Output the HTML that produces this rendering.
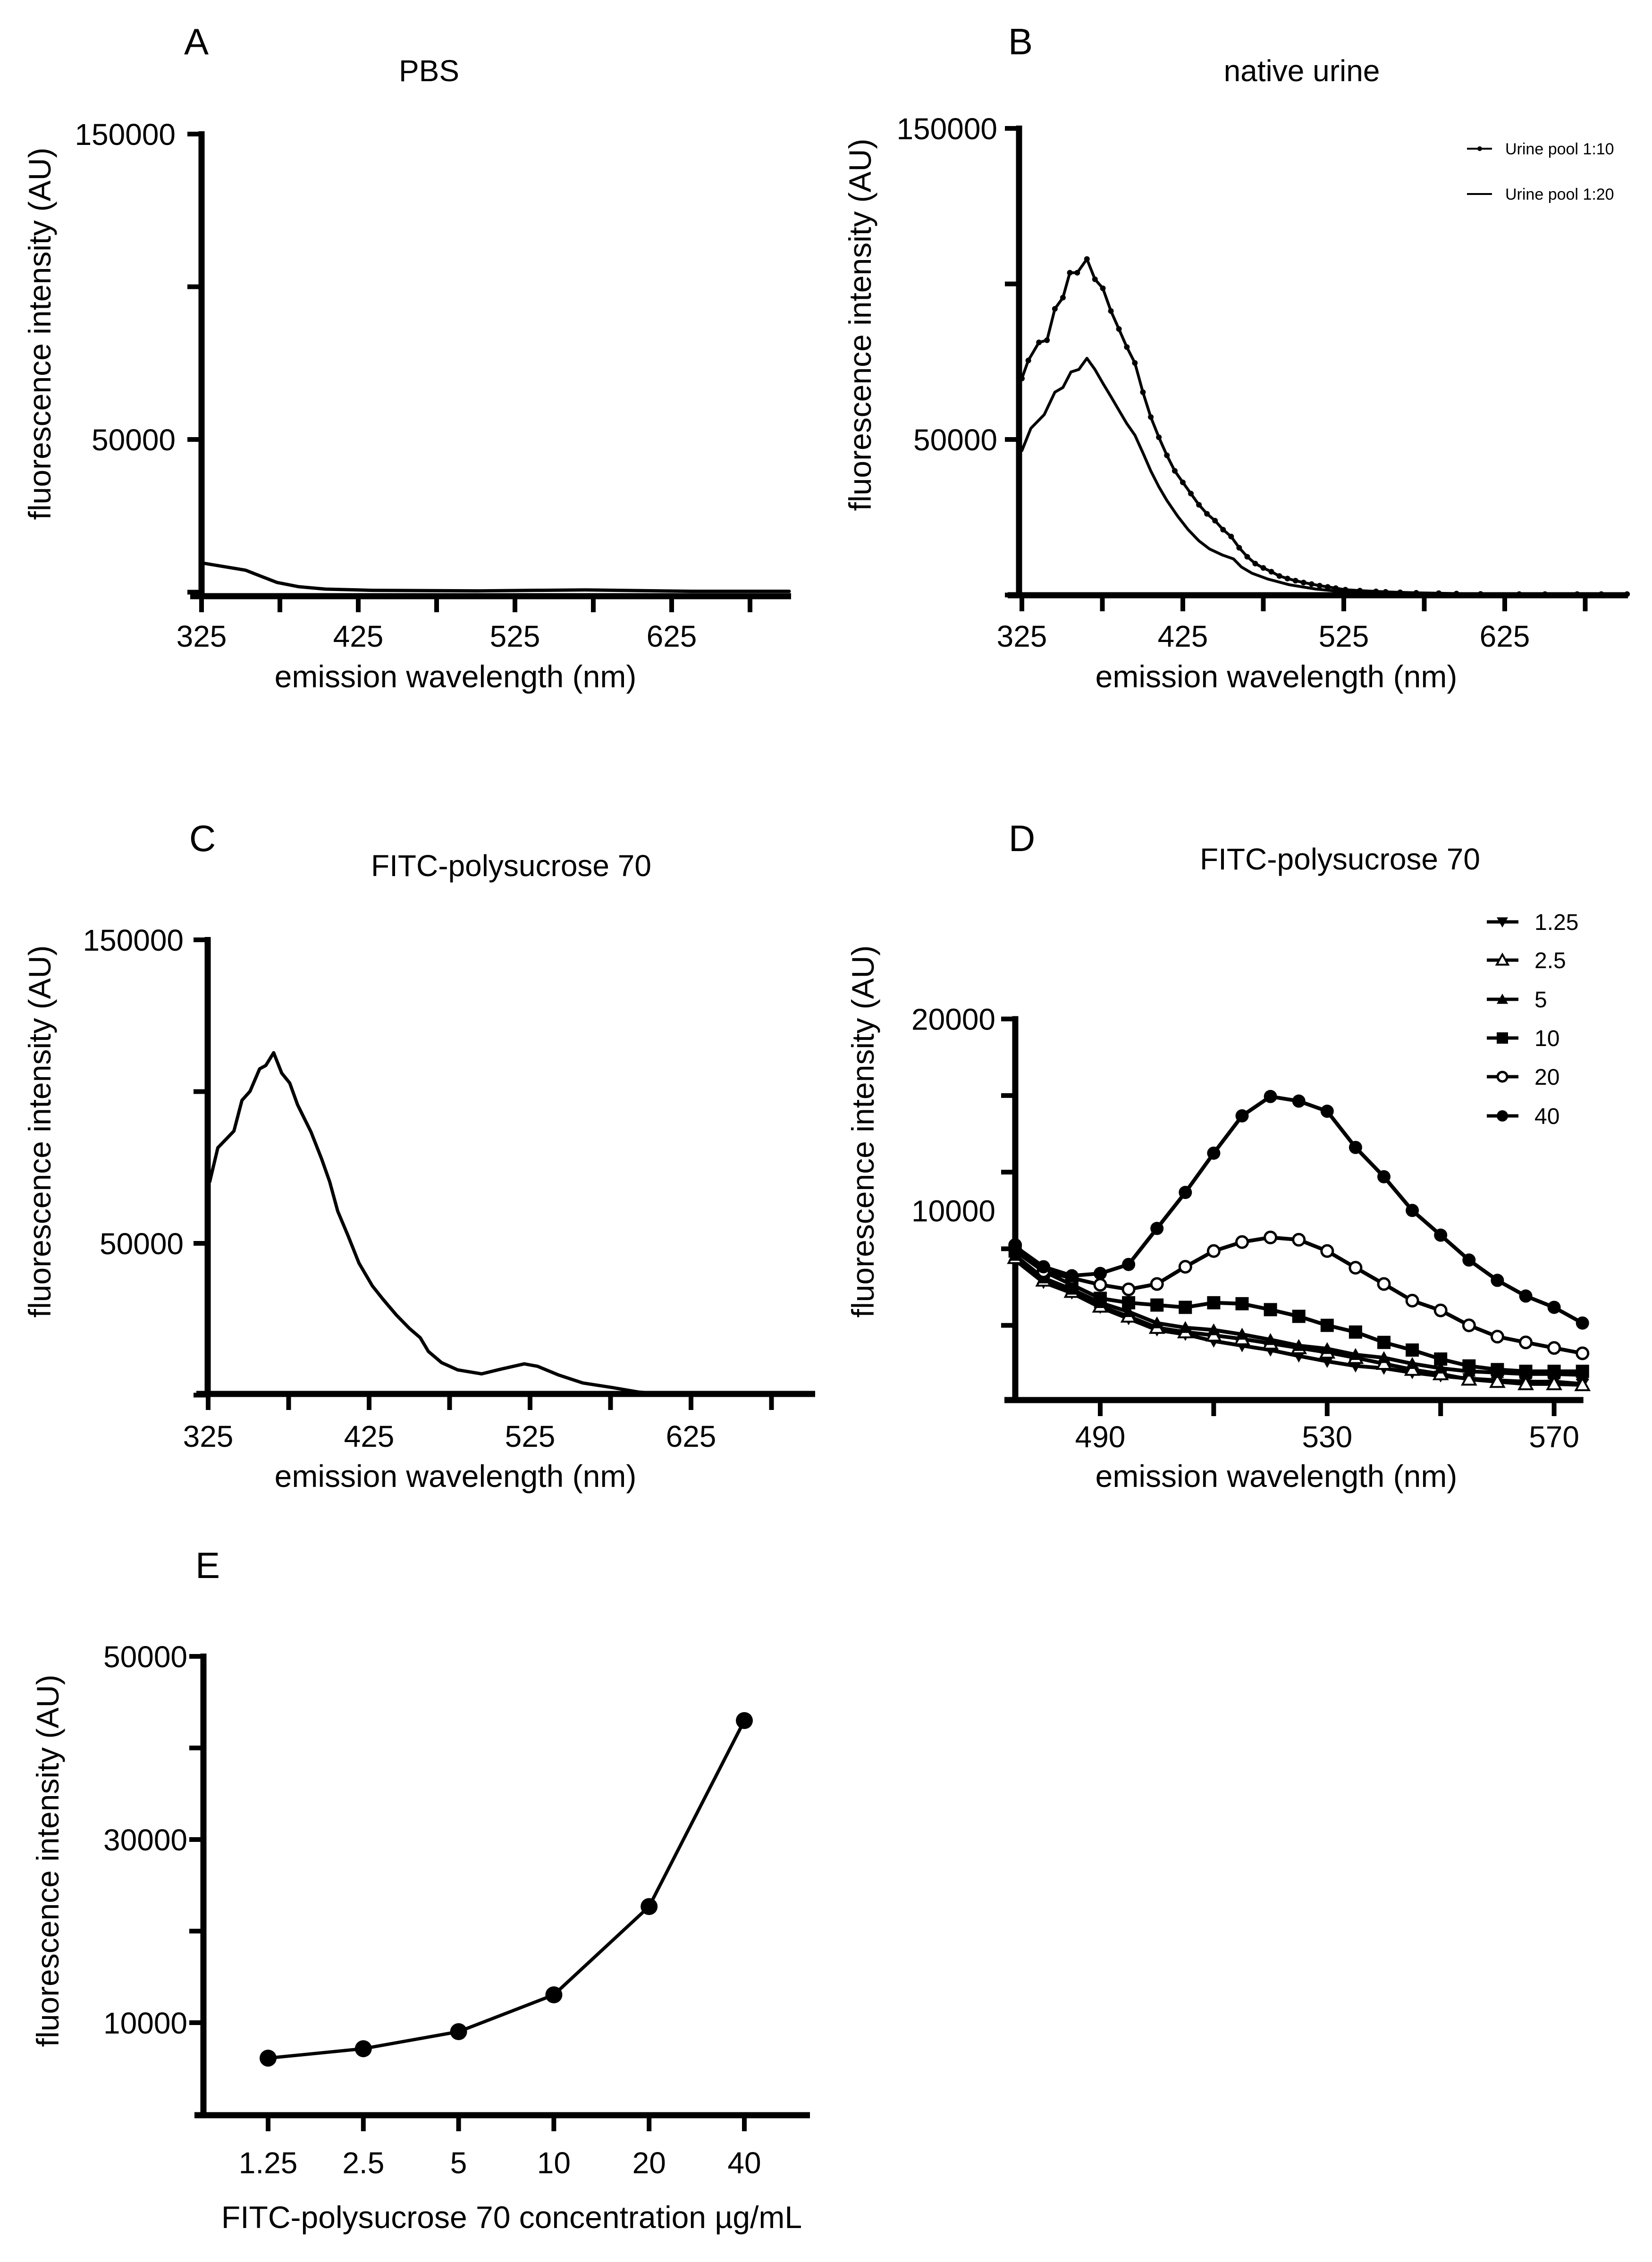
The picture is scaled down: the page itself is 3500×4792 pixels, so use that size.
<!DOCTYPE html>
<html><head><meta charset="utf-8"><style>
html,body{margin:0;padding:0;background:#fff}
svg{display:block}
text{font-family:"Liberation Sans",Arial,sans-serif;fill:#000}
</style></head><body>
<svg id="fig" xmlns="http://www.w3.org/2000/svg" width="3500" height="4792" viewBox="0 0 3500 4792"></svg>
<script>
// ---- Panel A: PBS ----
const aWl  = [325,339,353,363,373,387,404,434,502,570,638,700];
const aVal = [9600,8400,7200,5200,3200,1800,1000,600,440,740,300,300];
// ---- Panel B: native urine ----
const bWl10  = [325,329,335.6,340.6,345.5,350.5,354.8,359.4,365.4,370.4,375.3,380.3,385.3,390.2,395.2,400.2,405.1,410.1,415.1,420,425,430,435,440,445,450,455,460,465,470,475,480,485,490,495,500,505,510,515,520,526,535,545,551,560,570,584,595,610,634,650,670,685,701];
const bVal10 = [69600,75400,81200,81900,92000,95600,103600,103600,108000,101500,98600,91300,85500,79700,74600,65200,57200,50700,44900,39900,36200,32600,29000,26100,23900,21000,18800,15200,12300,10100,8700,7500,6100,5300,4600,4000,3500,3000,2600,2200,1700,1400,1150,1000,850,700,580,450,350,290,290,290,290,290];
const bWl20  = [325,330.6,338.9,345.5,350.5,355.5,360.4,365.4,370.4,375.3,380.3,385.3,390.2,395.2,400.2,405.1,410.1,415.1,421.7,428.3,435,441.6,449.8,456.5,461.4,468,478,491.2,507.8,526,567.4,701];
const bVal20 = [46400,53600,58000,65200,66700,71700,72500,76100,72500,68100,63800,59400,55100,51400,45700,39900,34800,30400,25400,21000,17400,14800,12800,11600,9000,7000,5100,3300,1900,1000,430,290];
// ---- Panel C: FITC-polysucrose 70 spectrum ----
const cWl  = [326,331,341,346,351,357,360.8,365.7,370.7,375.7,380.6,388.9,395.5,400.5,405.5,412,418.7,427,433.6,441.9,450.2,456.8,461.8,470,480,494.9,506.5,521.4,529.6,542.9,557.8,576,592.5,612.4,640,700];
const cVal = [70300,81500,87000,97100,100100,107500,108600,112800,106100,102800,95600,86700,77800,70300,60600,52400,43500,36000,31600,26400,21900,18900,14400,10700,8300,7000,8500,10300,9500,6600,4000,2500,1000,300,0,0];
// ---- Panel D: concentration series ----
const dWl = [475,480,485,490,495,500,505,510,515,520,525,530,535,540,545,550,555,560,565,570,575];
const dSeriesNames = ["1.25","2.5","5","10","20","40"];
const d125 = [7410,6240,5690,4940,4350,3760,3530,3180,2940,2710,2400,2120,1880,1760,1530,1360,1220,1130,1060,1060,940];
const d25  = [7530,6350,5760,4990,4470,3880,3650,3480,3290,3060,2820,2590,2310,2000,1690,1460,1180,1060,940,940,890];
const d5   = [7650,6470,5880,5180,4710,4120,3880,3760,3530,3250,2940,2780,2470,2310,2000,1760,1600,1530,1460,1460,1410];
const d10  = [7880,6820,6120,5410,5180,5060,4940,5180,5130,4820,4470,4000,3650,3110,2710,2240,1880,1690,1600,1600,1600];
const d20  = [8190,6820,6470,6120,5880,6160,7060,7880,8350,8590,8470,7880,7010,6160,5290,4780,4000,3410,3110,2820,2540];
const d40  = [8120,7060,6590,6710,7180,9060,10940,12990,14940,15950,15710,15180,13290,11760,10000,8710,7410,6350,5530,4940,4120];
// ---- Panel E: concentration response ----
const eCats = ["1.25","2.5","5","10","20","40"];
const eVals = [6130,7160,9020,13040,22680,42990];

const NS="http://www.w3.org/2000/svg";
const svg=document.getElementById('fig');
function el(tag,attrs,parent){const e=document.createElementNS(NS,tag);for(const k in attrs)e.setAttribute(k,attrs[k]);(parent||svg).appendChild(e);return e;}
function txt(s,x,y,size,anchor,parent,name,rot){const t=el('text',{x:x,y:y,'font-size':size,'text-anchor':anchor||'middle'},parent);


if(rot)t.setAttribute('transform','rotate(-90 '+x+' '+y+')');t.textContent=s;return t;}
function poly(pts,parent,w,name){const p=el('polyline',{points:pts.map(p=>p[0].toFixed(1)+','+p[1].toFixed(1)).join(' '),fill:'none',stroke:'#000','stroke-width':w,'stroke-linejoin':'round','stroke-linecap':'round'},parent);


return p;}

function spectrumPanel(cfg){
  const g=el('g',{});
  
  
  const X=w=>cfg.x0+(w-325)*cfg.pxNm;
  const Y=v=>cfg.y0-v/1000*cfg.px1k;
  txt(cfg.letter,cfg.letterX,cfg.letterY,78,'middle',g,'panel-letter');
  txt(cfg.title,cfg.titleX,cfg.titleY,64,'middle',g,'panel-title');
  const ya=el('line',{x1:cfg.axisX,y1:Y(150000)-6,x2:cfg.axisX,y2:cfg.axisY+6,stroke:'#000','stroke-width':13},g);
  
  
  const xa=el('line',{x1:cfg.axisX-24,y1:cfg.axisY,x2:cfg.axisEnd,y2:cfg.axisY,stroke:'#000','stroke-width':13},g);
  
  
  [0,50000,100000,150000].forEach(v=>{
    const t=el('line',{x1:cfg.axisX-30,y1:Y(v),x2:cfg.axisX,y2:Y(v),stroke:'#000','stroke-width':10},g);
    
    
  });
  [50000,150000].forEach(v=>txt(String(v),cfg.yLabX,Y(v)+23,64,'end',g,'y-tick-label'));
  for(let w=325;w<=675;w+=50){
    const t=el('line',{x1:X(w),y1:cfg.axisY,x2:X(w),y2:cfg.axisY+34,stroke:'#000','stroke-width':10},g);
    
    
  }
  [325,425,525,625].forEach(w=>txt(String(w),X(w),cfg.xLabY,64,'middle',g,'x-tick-label'));
  txt('emission wavelength (nm)',cfg.xTitleX,cfg.xTitleY,66,'middle',g,'x-axis-title');
  txt('fluorescence intensity (AU)',cfg.yTitleX,cfg.yTitleY,66,'middle',g,'y-axis-title',true);
  return {g,X,Y};
}

// Panel A
(function(){
  const p=spectrumPanel({name:'panel-a-pbs',letter:'A',letterX:416,letterY:115,title:'PBS',titleX:909,titleY:172,
    x0:427,pxNm:3.32,y0:1254.5,px1k:6.47,axisX:427,axisY:1263,axisEnd:1676,yLabX:372,xLabY:1370,
    xTitleX:965,xTitleY:1456,yTitleX:107,yTitleY:707});
  poly(aWl.map((w,i)=>[p.X(w),p.Y(aVal[i])]),p.g,7,'pbs-curve');
})();

// Panel B
(function(){
  const p=spectrumPanel({name:'panel-b-native-urine',letter:'B',letterX:2162,letterY:115,title:'native urine',titleX:2758,titleY:172,
    x0:2165,pxNm:3.41,y0:1260.5,px1k:6.59,axisX:2159,axisY:1261,axisEnd:3449,yLabX:2113,xLabY:1370,
    xTitleX:2704,xTitleY:1456,yTitleX:1845,yTitleY:688});
  poly(bWl20.map((w,i)=>[p.X(w),p.Y(bVal20[i])]),p.g,6,'urine-1-20-line');
  poly(bWl10.map((w,i)=>[p.X(w),p.Y(bVal10[i])]),p.g,6,'urine-1-10-line');
  bWl10.forEach((w,i)=>{const c=el('circle',{cx:p.X(w),cy:p.Y(bVal10[i]),r:6,fill:'#000'},p.g);
    
    });
  const lg=el('g',{},p.g);
  
  
  el('line',{x1:3108,y1:315,x2:3161,y2:315,stroke:'#000','stroke-width':4},lg);
  el('circle',{cx:3135,cy:315,r:5,fill:'#000'},lg);
  txt('Urine pool 1:10',3189,327,34,'start',lg,'legend-entry-1-10');
  el('line',{x1:3108,y1:411,x2:3161,y2:411,stroke:'#000','stroke-width':4},lg);
  txt('Urine pool 1:20',3189,423,34,'start',lg,'legend-entry-1-20');
})();

// Panel C
(function(){
  const p=spectrumPanel({name:'panel-c-fitc-spectrum',letter:'C',letterX:429,letterY:1803,title:'FITC-polysucrose 70',titleX:1083,titleY:1856,
    x0:441,pxNm:3.41,y0:2955.5,px1k:6.43,axisX:440,axisY:2953,axisEnd:1727,yLabX:389,xLabY:3065,
    xTitleX:965,xTitleY:3150,yTitleX:107,yTitleY:2397});
  poly(cWl.map((w,i)=>[p.X(w),p.Y(cVal[i])]),p.g,7,'fitc-curve');
})();

function marker(type,x,y,s,parent){
  let m;
  if(type==='circle')m=el('circle',{cx:x,cy:y,r:s,fill:'#000'},parent);
  else if(type==='ocircle')m=el('circle',{cx:x,cy:y,r:s-2,fill:'#fff',stroke:'#000','stroke-width':5},parent);
  else if(type==='square')m=el('rect',{x:x-s,y:y-s,width:2*s,height:2*s,fill:'#000'},parent);
  else if(type==='tri')m=el('polygon',{points:`${x},${y-s} ${x-s},${y+s*0.8} ${x+s},${y+s*0.8}`,fill:'#000'},parent);
  else if(type==='otri')m=el('polygon',{points:`${x},${y-s} ${x-s},${y+s*0.8} ${x+s},${y+s*0.8}`,fill:'#fff',stroke:'#000','stroke-width':4},parent);
  else m=el('polygon',{points:`${x},${y+s} ${x-s},${y-s*0.8} ${x+s},${y-s*0.8}`,fill:'#000'},parent);
  return m;
}

// Panel D
(function(){
  const g=el('g',{});
  
  
  const X=w=>2331+(w-490)*12.02;
  const Y=v=>2970-v/1000*40.57;
  txt('D',2165,1803,78,'middle',g,'panel-letter');
  txt('FITC-polysucrose 70',2839,1842,64,'middle',g,'panel-title');
  const ya=el('line',{x1:2151,y1:Y(20000)-6,x2:2151,y2:2972,stroke:'#000','stroke-width':13},g);
  
  
  const xa=el('line',{x1:2128,y1:2966,x2:X(575)+2,y2:2966,stroke:'#000','stroke-width':13},g);
  
  
  for(let v=4000;v<=20000;v+=4000){const t=el('line',{x1:2121,y1:Y(v),x2:2151,y2:Y(v),stroke:'#000','stroke-width':10},g);
    
    }
  [10000,20000].forEach(v=>txt(String(v),2109,Y(v)+23,64,'end',g,'y-tick-label'));
  for(let w=490;w<=570;w+=20){const t=el('line',{x1:X(w),y1:2966,x2:X(w),y2:3000,stroke:'#000','stroke-width':10},g);
    
    }
  [490,530,570].forEach(w=>txt(String(w),X(w),3066,64,'middle',g,'x-tick-label'));
  txt('emission wavelength (nm)',2704,3150,66,'middle',g,'x-axis-title');
  txt('fluorescence intensity (AU)',1851,2397,66,'middle',g,'y-axis-title',true);
  const series=[d125,d25,d5,d10,d20,d40];
  const types=['itri','otri','tri','square','ocircle','circle'];
  series.forEach((s,k)=>{
    const sg=el('g',{},g);
    
    
    poly(dWl.map((w,i)=>[X(w),Y(s[i])]),sg,8,'series-line');
    dWl.forEach((w,i)=>{const m=marker(types[k],X(w),Y(s[i]),14,sg);
      
      });
  });
  const legY=[1953,2034,2117,2199,2281,2364];
  dSeriesNames.forEach((n,k)=>{
    const lg=el('g',{},g);
    
    
    el('line',{x1:3150,y1:legY[k],x2:3217,y2:legY[k],stroke:'#000','stroke-width':7},lg);
    marker(types[k],3183,legY[k],12,lg);
    txt(n,3251,legY[k]+17,48,'start',lg,'legend-label');
  });
})();

// Panel E
(function(){
  const g=el('g',{});
  
  
  const X=i=>568+i*201.8;
  const Y=v=>4479-v/1000*19.4;
  txt('E',440,3343,78,'middle',g,'panel-letter');
  const ya=el('line',{x1:431,y1:Y(50000)-6,x2:431,y2:4487,stroke:'#000','stroke-width':13},g);
  
  
  const xa=el('line',{x1:412,y1:4481,x2:1716,y2:4481,stroke:'#000','stroke-width':13},g);
  
  
  for(let v=10000;v<=50000;v+=10000){const t=el('line',{x1:401,y1:Y(v),x2:431,y2:Y(v),stroke:'#000','stroke-width':10},g);
    
    }
  [10000,30000,50000].forEach(v=>txt(String(v),397,Y(v)+23,64,'end',g,'y-tick-label'));
  eCats.forEach((c,i)=>{const t=el('line',{x1:X(i),y1:4481,x2:X(i),y2:4515,stroke:'#000','stroke-width':10},g);
    
    
    txt(c,X(i),4604,64,'middle',g,'x-tick-label');});
  txt('FITC-polysucrose 70 concentration \u00b5g/mL',1084,4720,66,'middle',g,'x-axis-title');
  txt('fluorescence intensity (AU)',124,3942,66,'middle',g,'y-axis-title',true);
  poly(eVals.map((v,i)=>[X(i),Y(v)]),g,7,'response-line');
  eVals.forEach((v,i)=>{const c=el('circle',{cx:X(i),cy:Y(v),r:18,fill:'#000'},g);
    
    });
})();
</script>
</body></html>
